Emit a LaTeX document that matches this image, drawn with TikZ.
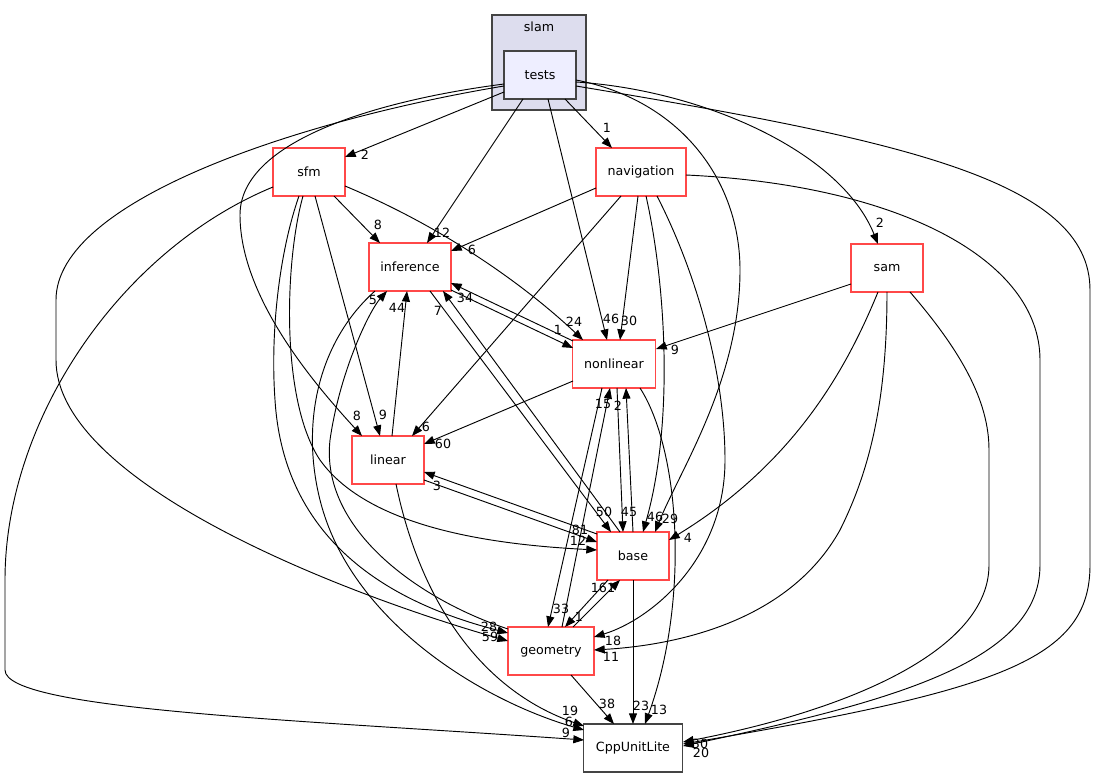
\documentclass[tikz,border=0pt]{standalone}
\usepackage{fontspec}
\setmainfont{DejaVu Sans}
\usetikzlibrary{arrows.meta,calc}
\definecolor{DirRed}{HTML}{FF4848}
\definecolor{DirGray}{HTML}{444444}
\definecolor{SlamFill}{HTML}{DDDDEE}
\definecolor{TestFill}{HTML}{EEEEFF}

\begin{document}
\begin{tikzpicture}[x=0.75pt,y=-0.75pt,
    dir/.style={draw=DirRed,fill=white,line width=.8pt,minimum width=#1,
                minimum height=36pt,inner sep=0pt,font=\fontsize{9.5}{11}\selectfont},
    dep/.style={-{Triangle[length=8pt,width=6pt]},line width=.7pt},
    num/.style={inner sep=0pt,font=\fontsize{9.5}{11}\selectfont}]
    \useasboundingbox (0,0) rectangle (1096,777);
    % cluster
    \node[draw=DirGray,fill=SlamFill,line width=.8pt,minimum width=70.5pt,
          minimum height=71.25pt] (slam) at (539,62.5) {};
    \node[num] (slamname) at (539,27) {slam};
    \node[dir=54pt,draw=DirGray,fill=TestFill] (tests) at (540,75) {tests};
    % directories
    \node[dir=54pt] (sfm) at (309,172) {sfm};
    \node[dir=67.5pt] (navigation) at (641,172) {navigation};
    \node[dir=61.5pt] (inference) at (410,267) {inference};
    \node[dir=54pt] (sam) at (887,268) {sam};
    \node[dir=62.25pt] (nonlinear) at (614,364) {nonlinear};
    \node[dir=54pt] (linear) at (388,460) {linear};
    \node[dir=54pt] (base) at (633,556) {base};
    \node[dir=64.5pt] (geometry) at (551,651) {geometry};
    \node[dir=74.25pt,draw=DirGray] (cpp) at (633,748) {CppUnitLite};

    % tests
    \draw[dep] ($(tests)+(-36,17)$) -- ($(sfm)+(36,-15)$) node[num] at (365,155) {2};
    \draw[dep] ($(tests)+(-17,24)$) -- ($(inference)+(17,-24)$) node[num] at (442,233) {12};
    \draw[dep] ($(tests)+(8,24)$) -- ($(nonlinear)+(-7,-24)$) node[num] at (611,319) {46};
    \draw[dep] ($(tests)+(25,24)$) -- ($(navigation)+(-29,-24)$) node[num] at (607,128) {1};
    \draw[dep] ($(tests)+(-36,9)$) .. controls (380,100) and (240,140) .. (240,215)
        .. controls (240,300) and (320,390) .. ($(linear)+(-26,-24)$) node[num] at (357,416) {8};
    \draw[dep] ($(tests)+(-36,11)$) .. controls (300,120) and (56,200) .. (56,300) -- (56,360)
        .. controls (56,480) and (330,590) .. ($(geometry)+(-43,-10)$) node[num] at (490,637) {59};
    \draw[dep] ($(tests)+(36,7)$) .. controls (700,90) and (840,150) .. ($(sam)+(-9,-24)$)
        node[num] at (880,223) {2};
    \draw[dep] ($(tests)+(36,5)$) .. controls (680,100) and (740,180) .. (740,270)
        .. controls (740,380) and (680,470) .. ($(base)+(22,-24)$) node[num] at (670,519) {29};
    \draw[dep] ($(tests)+(36,11)$) .. controls (900,140) and (1090,180) .. (1090,290) -- (1090,565)
        .. controls (1090,660) and (1000,690) .. ($(cpp)+(50,-4)$) node[num] at (700,744) {30};

    % sfm
    \draw[dep] ($(sfm)+(25,24)$) -- ($(inference)+(-30,-24)$) node[num] at (378,225) {8};
    \draw[dep] ($(sfm)+(36,14)$) .. controls (450,230) and (530,290) .. ($(nonlinear)+(-31,-24)$)
        node[num] at (574,322) {24};
    \draw[dep] ($(sfm)+(6,24)$) -- ($(linear)+(-8,-24)$) node[num] at (383,415) {9};
    \draw[dep] ($(sfm)+(-6,24)$) .. controls (285,260) and (280,400) .. (320,460)
        .. controls (370,530) and (500,545) .. ($(base)+(-36,-6)$) node[num] at (578,541) {12};
    \draw[dep] ($(sfm)+(-10,24)$) .. controls (280,250) and (270,330) .. (275,400)
        .. controls (285,560) and (420,610) .. ($(geometry)+(-43,-18)$) node[num] at (489,627) {28};
    \draw[dep] ($(sfm)+(-36,15)$) .. controls (120,250) and (5,420) .. (5,580) -- (5,670)
        .. controls (5,710) and (300,720) .. ($(cpp)+(-49,-8)$) node[num] at (566,733) {9};

    % navigation
    \draw[dep] ($(navigation)+(-45,16)$) -- ($(inference)+(41,-16)$) node[num] at (472,250) {6};
    \draw[dep] ($(navigation)+(-20,24)$) -- ($(linear)+(24,-24)$) node[num] at (426,427) {6};
    \draw[dep] ($(navigation)+(-3,24)$) -- ($(nonlinear)+(6,-24)$) node[num] at (629,321) {30};
    \draw[dep] ($(navigation)+(5,24)$) .. controls (665,280) and (675,420) .. ($(base)+(10,-24)$)
        node[num] at (655,517) {46};
    \draw[dep] ($(navigation)+(16,24)$) .. controls (700,280) and (725,380) .. (725,460)
        .. controls (725,560) and (650,620) .. ($(geometry)+(43,-14)$) node[num] at (613,641) {18};
    \draw[dep] ($(navigation)+(45,3)$) .. controls (900,185) and (1040,260) .. (1040,360) -- (1040,565)
        .. controls (1040,660) and (900,700) .. ($(cpp)+(50,-2)$) node[num] at (701,753) {20};

    % inference
    \draw[dep] ($(inference)+(41,23)$) -- ($(nonlinear)+(-41,-16)$) node[num] at (558,330) {1};
    \draw[dep] ($(inference)+(20,24)$) -- ($(base)+(-22,-24)$) node[num] at (604,512) {50};
    \draw[dep] ($(inference)+(-35,24)$) .. controls (320,340) and (300,420) .. (320,500)
        .. controls (350,620) and (480,700) .. ($(cpp)+(-49,-18)$) node[num] at (569,722) {6};

    % sam
    \draw[dep] ($(sam)+(-36,16)$) -- ($(nonlinear)+(42,-15)$) node[num] at (675,350) {9};
    \draw[dep] ($(sam)+(-9,24)$) .. controls (850,360) and (800,460) .. ($(base)+(36,-16)$)
        node[num] at (688,538) {4};
    \draw[dep] ($(sam)+(0,24)$) .. controls (887,400) and (870,470) .. (840,530)
        .. controls (790,620) and (680,645) .. ($(geometry)+(43,-1)$) node[num] at (611,657) {11};
    \draw[dep] ($(sam)+(23,24)$) .. controls (960,350) and (989,400) .. (989,450) -- (989,565)
        .. controls (989,650) and (850,710) .. ($(cpp)+(50,-6)$);

    % nonlinear
    \draw[dep] ($(nonlinear)+(-41,-23)$) -- ($(inference)+(41,16)$) node[num] at (465,298) {34};
    \draw[dep] ($(nonlinear)+(-41,17)$) -- ($(linear)+(36,-16)$) node[num] at (443,444) {60};
    \draw[dep] ($(nonlinear)+(3,24)$) -- ($(base)+(-10,-24)$) node[num] at (629,512) {45};
    \draw[dep] ($(nonlinear)+(-12,24)$) -- ($(geometry)+(-3,-24)$) node[num] at (561,609) {33};
    \draw[dep] ($(nonlinear)+(26,24)$) .. controls (680,450) and (690,600) .. ($(cpp)+(12,-24)$)
        node[num] at (659,710) {13};

    % linear
    \draw[dep] ($(linear)+(4,-24)$) -- ($(inference)+(-3,24)$) node[num] at (397,308) {44};
    \draw[dep] ($(linear)+(36,20)$) -- ($(base)+(-36,-14)$) node[num] at (580,530) {81};
    \draw[dep] ($(linear)+(8,24)$) .. controls (420,600) and (480,690) .. ($(cpp)+(-49,-22)$)
        node[num] at (570,711) {19};

    % base
    \draw[dep] ($(base)+(-13,-24)$) -- ($(inference)+(33,24)$) node[num] at (438,311) {7};
    \draw[dep] ($(base)+(0,-24)$) -- ($(nonlinear)+(12,24)$) node[num] at (618,406) {2};
    \draw[dep] ($(base)+(-36,-22)$) -- ($(linear)+(36,12)$) node[num] at (437,486) {3};
    \draw[dep] ($(base)+(-25,24)$) -- ($(geometry)+(14,-24)$) node[num] at (579,617) {1};
    \draw[dep] ($(base)+(0,24)$) -- ($(cpp)+(0,-24)$) node[num] at (641,706) {23};

    % geometry
    \draw[dep] ($(geometry)+(-43,-22)$) .. controls (420,600) and (320,530) .. (330,440)
        .. controls (340,370) and (370,310) .. ($(inference)+(-23,24)$) node[num] at (373,300) {5};
    \draw[dep] ($(geometry)+(11,-24)$) -- ($(nonlinear)+(-4,24)$) node[num] at (603,404) {15};
    \draw[dep] ($(geometry)+(22,-24)$) -- ($(base)+(-13,24)$) node[num] at (603,588) {161};
    \draw[dep] ($(geometry)+(20,24)$) -- ($(cpp)+(-19,-24)$) node[num] at (607,704) {38};
\end{tikzpicture}
\end{document}
